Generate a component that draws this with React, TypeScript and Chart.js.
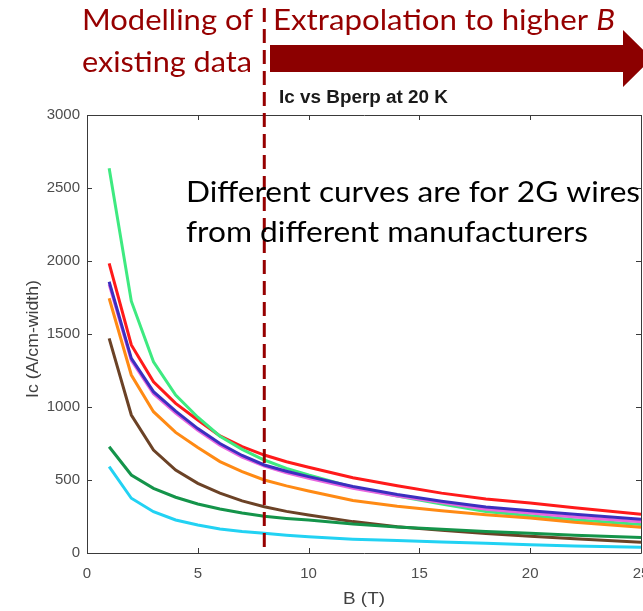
import React, { useEffect, useRef } from "react";
import { Chart, registerables } from "chart.js";

Chart.register(...registerables);

// Magnetic field B (T)
const fieldB = [1, 2, 3, 4, 5, 6, 7, 8, 9, 10, 12, 14, 16, 18, 20, 22, 25];

// Ic (A/cm-width) per manufacturer curve
const greenIc = [2635, 1725, 1310, 1082, 930, 800, 710, 637, 580, 534, 450, 390, 335, 285, 255, 228, 196];
const redIc = [1984, 1425, 1173, 1025, 911, 802, 728, 671, 625, 587, 515, 460, 410, 370, 342, 310, 265];
const blueIc = [1858, 1333, 1105, 972, 852, 750, 668, 603, 560, 523, 455, 400, 355, 315, 290, 265, 231];
const pinkIc = [1840, 1320, 1090, 958, 840, 738, 656, 595, 550, 511, 443, 390, 345, 300, 274, 247, 214];
const orangeIc = [1745, 1219, 968, 826, 722, 626, 558, 500, 460, 425, 360, 320, 290, 262, 240, 210, 176];
const brownIc = [1470, 945, 705, 568, 477, 410, 357, 317, 285, 260, 215, 180, 155, 133, 115, 97, 73];
const darkGreenIc = [728, 534, 443, 382, 336, 302, 274, 251, 237, 226, 198, 178, 162, 148, 135, 122, 107];
const cyanIc = [591, 375, 283, 226, 192, 165, 148, 135, 122, 111, 95, 85, 75, 66, 56, 48, 39];

const xTicks = [0, 5, 10, 15, 20, 25];
const yTicks = [0, 500, 1000, 1500, 2000, 2500, 3000];
const boundaryB = 8;

const chartTitle = "Ic vs Bperp at 20 K";
const xTitle = "B (T)";
const yTitle = "Ic (A/cm-width)";
const leftNote = ["Modelling of", "existing data"];
const rightNote = "Extrapolation to higher ";
const rightNoteItalic = "B";
const curvesNote = ["Different curves are for 2G wires", "from different manufacturers"];

const toXY = (ys: number[]) => ys.map((y, i) => ({ x: fieldB[i], y }));

const DARK_RED = "#960000";
const AXIS = "#3a3a3a";
const TICK_TEXT = "#4d4d4d";

type Part = { text: string; font: string };

function drawFitted(ctx: CanvasRenderingContext2D, parts: Part[], x: number, y: number, width: number, color: string) {
  ctx.save();
  let total = 0;
  const widths = parts.map((p) => {
    ctx.font = p.font;
    const w = ctx.measureText(p.text).width;
    total += w;
    return w;
  });
  const sx = width / total;
  ctx.translate(x, y);
  ctx.scale(sx, 1);
  ctx.fillStyle = color;
  ctx.textBaseline = "alphabetic";
  ctx.textAlign = "left";
  let cx = 0;
  parts.forEach((p, i) => {
    ctx.font = p.font;
    ctx.fillText(p.text, cx, 0);
    cx += widths[i];
  });
  ctx.restore();
}

const overlayPlugin = {
  id: "overlay",
  afterDatasetsDraw(chart: any) {
    const ctx: CanvasRenderingContext2D = chart.ctx;
    const { left, right, top, bottom } = chart.chartArea;
    const xs = chart.scales.x;
    const ys = chart.scales.y;

    // Axes box
    ctx.save();
    ctx.strokeStyle = AXIS;
    ctx.lineWidth = 1;
    ctx.beginPath();
    ctx.rect(Math.round(left) + 0.5, Math.round(top) + 0.5, Math.round(right - left), Math.round(bottom - top));
    ctx.stroke();
    // inward ticks
    const tl = 5;
    ctx.beginPath();
    xTicks.forEach((v) => {
      const px = Math.round(xs.getPixelForValue(v)) + 0.5;
      ctx.moveTo(px, bottom);
      ctx.lineTo(px, bottom - tl);
      ctx.moveTo(px, top);
      ctx.lineTo(px, top + tl);
    });
    yTicks.forEach((v) => {
      const py = Math.round(ys.getPixelForValue(v)) + 0.5;
      ctx.moveTo(left, py);
      ctx.lineTo(left + tl, py);
      ctx.moveTo(right, py);
      ctx.lineTo(right - tl, py);
    });
    ctx.stroke();
    ctx.restore();

    // Axis titles
    drawFitted(ctx, [{ text: xTitle, font: '17px "Liberation Sans", Arial, sans-serif' }], (left + right) / 2 - 21, 604, 42, "#404040");
    ctx.save();
    ctx.translate(38, 339);
    ctx.rotate(-Math.PI / 2);
    drawFitted(ctx, [{ text: yTitle, font: '17px "Liberation Sans", Arial, sans-serif' }], -59, 0, 118, "#404040");
    ctx.restore();

    // Chart title
    drawFitted(ctx, [{ text: chartTitle, font: 'bold 18px "Liberation Sans", Arial, sans-serif' }], 279, 103, 169, "#1a1a1a");

    // Dashed boundary line
    const bx = xs.getPixelForValue(boundaryB);
    ctx.save();
    ctx.strokeStyle = DARK_RED;
    ctx.lineWidth = 3;
    ctx.setLineDash([14, 7]);
    ctx.beginPath();
    ctx.moveTo(bx, 8);
    ctx.lineTo(bx, bottom);
    ctx.stroke();
    ctx.restore();

    // Arrow
    ctx.save();
    ctx.fillStyle = "#8c0000";
    ctx.beginPath();
    ctx.moveTo(270, 45);
    ctx.lineTo(623, 45);
    ctx.lineTo(623, 30);
    ctx.lineTo(652, 58.5);
    ctx.lineTo(623, 87);
    ctx.lineTo(623, 72);
    ctx.lineTo(270, 72);
    ctx.closePath();
    ctx.fill();
    ctx.restore();

    // Notes
    const noteFont = '28px Lato, "Open Sans", sans-serif';
    drawFitted(ctx, [{ text: leftNote[0], font: noteFont }], 82, 30, 171, DARK_RED);
    drawFitted(ctx, [{ text: leftNote[1], font: noteFont }], 82, 72, 170, DARK_RED);
    drawFitted(
      ctx,
      [
        { text: rightNote, font: noteFont },
        { text: rightNoteItalic, font: 'italic 28px Lato, "Open Sans", sans-serif' },
      ],
      273,
      30,
      342,
      DARK_RED
    );
    const blackFont = '29px Lato, "Open Sans", sans-serif';
    drawFitted(ctx, [{ text: curvesNote[0], font: blackFont }], 186, 202, 454, "#000000");
    drawFitted(ctx, [{ text: curvesNote[1], font: blackFont }], 186, 242, 402, "#000000");
  },
};

export default function App() {
  const ref = useRef<HTMLCanvasElement | null>(null);

  useEffect(() => {
    document.body.style.margin = "0";
    const canvas = ref.current;
    if (!canvas) return;
    const mk = (data: number[], color: string) => ({
      data: toXY(data),
      borderColor: color,
      backgroundColor: color,
      borderWidth: 3,
      pointRadius: 0,
      fill: false,
      tension: 0,
    });
    const tickFont = { family: '"Liberation Sans", Arial, sans-serif', size: 15 };
    const plain = (v: any) => String(v);
    const chart = new Chart(canvas, {
      type: "line",
      data: {
        datasets: [
          mk(cyanIc, "#22d2f3"),
          mk(darkGreenIc, "#14944a"),
          mk(brownIc, "#6b4226"),
          mk(orangeIc, "#ff8a14"),
          mk(blueIc, "#3b2fbf"),
          mk(pinkIc, "#e866e0"),
          mk(greenIc, "#3eea80"),
          mk(redIc, "#ff1a1a"),
        ],
      },
      options: {
        animation: false,
        responsive: false,
        maintainAspectRatio: false,
        layout: { padding: { top: 115, right: 2, left: 0, bottom: 0 } },
        plugins: {
          legend: { display: false },
          title: { display: false },
          tooltip: { enabled: false },
        },
        scales: {
          x: {
            type: "linear",
            min: 0,
            max: 25,
            ticks: { stepSize: 5, font: tickFont, color: TICK_TEXT, padding: 12, maxRotation: 0, autoSkip: false, callback: plain },
            grid: { display: false, drawTicks: false },
            border: { display: false },
            afterFit: (s: any) => {
              s.height = 58;
              s.paddingLeft = 0;
              s.paddingRight = 0;
            },
          },
          y: {
            type: "linear",
            min: 0,
            max: 3000,
            ticks: { stepSize: 500, font: tickFont, color: TICK_TEXT, padding: 7, callback: plain },
            grid: { display: false, drawTicks: false },
            border: { display: false },
            afterFit: (s: any) => {
              s.width = 87;
              s.paddingTop = 0;
              s.paddingBottom = 0;
            },
          },
        },
      },
      plugins: [overlayPlugin],
    });
    return () => chart.destroy();
  }, []);

  return (
    <div style={{ position: "fixed", left: 0, top: 0, width: 643, height: 611, background: "#fff" }}>
      <canvas ref={ref} width={643} height={611} style={{ display: "block" }} />
    </div>
  );
}
